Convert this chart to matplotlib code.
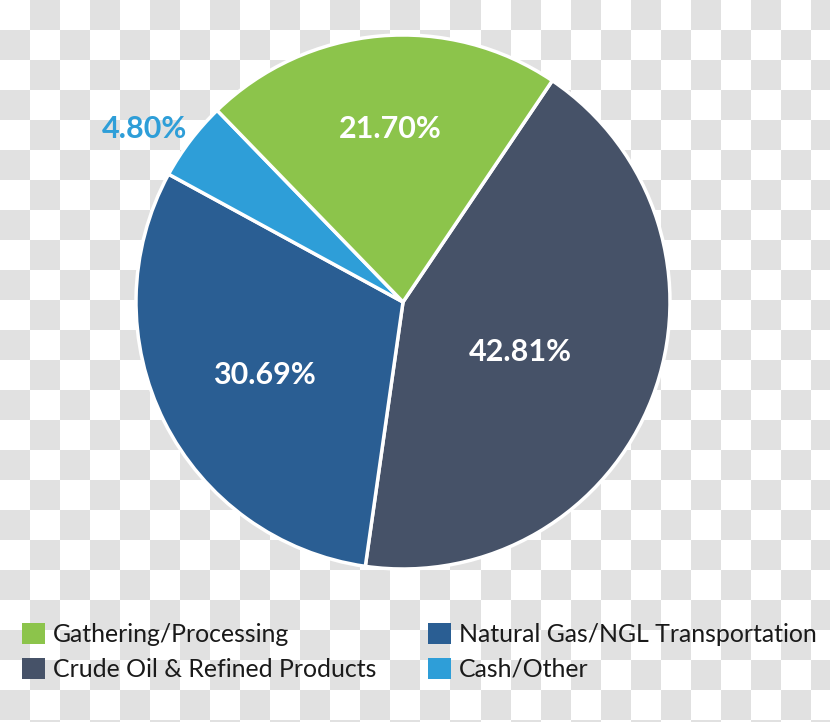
import numpy as np
import matplotlib
matplotlib.use("Agg")
import matplotlib.pyplot as plt
from matplotlib.patches import Patch
from matplotlib.colors import ListedColormap

categories = ["Crude Oil & Refined Products", "Natural Gas/NGL Transportation",
              "Cash/Other", "Gathering/Processing"]
values = [42.81, 30.69, 4.80, 21.70]
labels = ["42.81%", "30.69%", "4.80%", "21.70%"]
colors = ["#465268", "#2a5e93", "#2e9ed8", "#8cc44b"]
legend_order = ["Gathering/Processing", "Crude Oil & Refined Products",
                "Natural Gas/NGL Transportation", "Cash/Other"]

plt.rcParams['font.family'] = ['Lato', 'DejaVu Sans']

W, H = 830, 722
fig = plt.figure(figsize=(W / 100, H / 100), dpi=100)

# checkerboard (transparent background look)
bg = fig.add_axes([0, 0, 1, 1])
sq = 30
rows, cols = int(np.ceil(H / sq)), int(np.ceil(W / sq))
board = (np.indices((rows, cols)).sum(axis=0) % 2).astype(float)
bg.imshow(board, cmap=ListedColormap(["#ffffff", "#e1e1e1"]),
          extent=(0, cols * sq, rows * sq, 0), interpolation="nearest")
bg.set_xlim(0, W)
bg.set_ylim(H, 0)
bg.axis("off")

# pie
cx, cy, r = 403, 302, 267
ax = fig.add_axes([(cx - r) / W, (H - cy - r) / H, 2 * r / W, 2 * r / H])
wedges, _ = ax.pie(values, colors=colors, startangle=56, counterclock=False,
                   radius=1.0, wedgeprops=dict(edgecolor="white", linewidth=2.5))
ax.set_xlim(-1, 1)
ax.set_ylim(-1, 1)
ax.set_aspect("equal")
ax.axis("off")

dists = [0.47, 0.59, 1.03, 0.65]
offsets = [(0.0, -0.02), (0.01, -0.01), (0.01, 0.025), (0.01, 0.0)]
for w, lab, d, col, (ox, oy) in zip(wedges, labels, dists, colors, offsets):
    ang = np.deg2rad((w.theta1 + w.theta2) / 2)
    x, y = d * np.cos(ang) + ox, d * np.sin(ang) + oy
    if d > 1:
        ax.text(x, y, lab, ha="right", va="center", fontsize=22, color=col,
                fontweight="bold", clip_on=False)
    else:
        ax.text(x, y, lab, ha="center", va="center", fontsize=22, color="white",
                fontweight="bold")

cmap = dict(zip(categories, colors))
handles = [Patch(facecolor=cmap[c], edgecolor="none", label=c) for c in legend_order]
fig.legend(handles=handles, ncol=2, loc="upper left",
           bbox_to_anchor=(0 / W, 1 - 601 / H), frameon=False,
           fontsize=17.9, handlelength=0.9, handleheight=0.9,
           handletextpad=0.32, columnspacing=2.1, labelspacing=0.46,
           labelcolor="#1a1a1a")

fig.savefig("out.png", dpi=100)
